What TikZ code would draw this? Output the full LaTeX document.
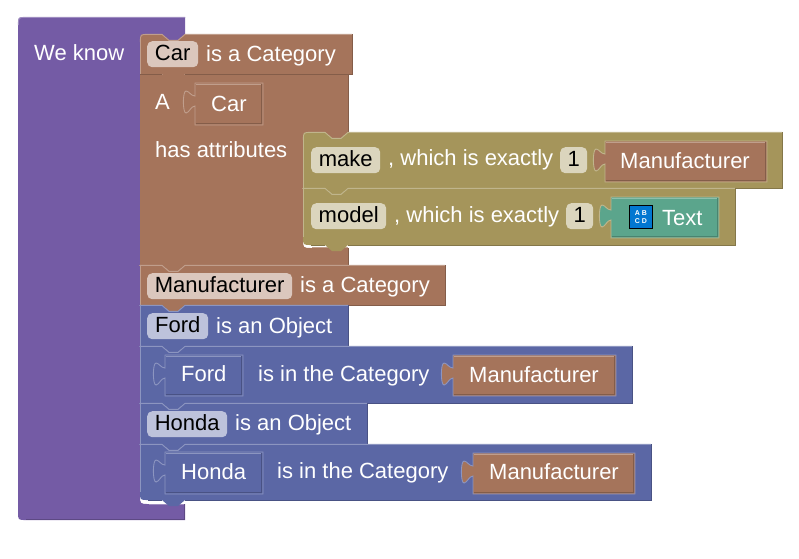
\documentclass[tikz,border=0pt]{standalone}
\usepackage{fontspec}
\setmainfont{Liberation Sans}
\definecolor{BlockViolet}{HTML}{745BA5}
\definecolor{BlockVioletLight}{HTML}{9E8CC0}
\definecolor{BlockVioletDark}{HTML}{5D4984}
\definecolor{BlockBrown}{HTML}{A5745B}
\definecolor{BlockBrownLight}{HTML}{C09E8C}
\definecolor{BlockBrownDark}{HTML}{845D49}
\definecolor{BlockOlive}{HTML}{A5955B}
\definecolor{BlockOliveLight}{HTML}{C0B58C}
\definecolor{BlockOliveDark}{HTML}{847749}
\definecolor{BlockBlue}{HTML}{5B67A5}
\definecolor{BlockBlueLight}{HTML}{8C95C0}
\definecolor{BlockBlueDark}{HTML}{495284}
\definecolor{BlockTeal}{HTML}{5BA58C}
\definecolor{BlockTealLight}{HTML}{8CC0AE}
\definecolor{BlockTealDark}{HTML}{498470}
\definecolor{ChipBrown}{HTML}{DBC7BD}
\definecolor{ChipOlive}{HTML}{DBD5BD}
\definecolor{ChipBlue}{HTML}{BDC2DB}
\definecolor{IconBlue}{HTML}{0277D1}
\tikzset{
  chip/.style={anchor=north west,inner sep=0pt,text=black,minimum height=26,text height=16.5,text depth=3.5,rounded corners=5pt},
  label/.style={anchor=base west,inner sep=0pt,text=white},
}
% colour, left, top, right, bottom, top radius, bottom radius
\newcommand{\stackblock}[7]{
  \fill[#1] (#2,#3+#6) .. controls (#2,#3) .. (#2+#6,#3) -- (#2+22,#3) -- (#2+29,#3+6) -- (#2+38,#3+6) -- (#2+45,#3) -- (#4,#3) -- (#4,#5)
    -- (#2+45,#5) -- (#2+38,#5+6) -- (#2+29,#5+6) -- (#2+22,#5) -- (#2+#7,#5) .. controls (#2,#5) .. (#2,#5-#7) -- cycle;
  \draw[#1Light,line width=0.4] (#2+0.2,#5-#7) -- (#2+0.2,#3+#6);
  \draw[#1Light,line width=0.9] (#2+0.4,#3+#6) .. controls (#2+0.4,#3+0.4) .. (#2+#6,#3+0.4) -- (#2+22,#3+0.4) -- (#2+29,#3+6.4) -- (#2+38,#3+6.4) -- (#2+45,#3+0.4) -- (#4,#3+0.4);
  \draw[#1Dark,line width=0.9] (#4,#3) -- (#4,#5) -- (#2+45,#5);
  \draw[#1Dark,line width=0.9] (#2+22,#5) -- (#2+#7,#5);
}
% child colour, parent colour, left, top, right, bottom
\newcommand{\valueblock}[6]{
  \draw[#2Light,fill=#1,line width=0.9] (#3,#4) -- (#5,#4) -- (#5,#6) -- (#3,#6) -- (#3,#4+23)
    .. controls (#3-4,#4+23) and (#3-6,#4+30) .. (#3-9,#4+30)
    .. controls (#3-12.5,#4+30) and (#3-12.5,#4+8) .. (#3-9,#4+8)
    .. controls (#3-6,#4+8) and (#3-4,#4+13) .. (#3,#4+13) -- cycle;
  \draw[#1Light,line width=0.9] (#3+1.2,#4+1.2) -- (#5-1.2,#4+1.2);
  \draw[#1Dark,line width=0.9] (#5-1.2,#4+1.2) -- (#5-1.2,#6-1.2) -- (#3+1.2,#6-1.2);
}
\begin{document}
\begin{tikzpicture}[x=1pt,y=-1pt,font=\fontsize{22}{24}\selectfont]
  \useasboundingbox (0,0) rectangle (799,558);
  % outer wrapper
  \fill[BlockViolet] (18,25) .. controls (18,17) .. (26,17) -- (185,17) -- (185,40) -- (140,40) -- (140,495) .. controls (140,504) .. (149,504) -- (185,504) -- (185,520) -- (26,520) .. controls (18,520) .. (18,512) -- cycle;
  \draw[BlockVioletLight,line width=0.9] (18.4,25) .. controls (18.4,17.4) .. (26,17.4) -- (185,17.4);
  \draw[BlockVioletLight,line width=0.9] (149,504.4) -- (185,504.4);
  \draw[BlockVioletDark,line width=0.8] (26,519.6) -- (184.6,519.6) -- (184.6,504);
  \node[label] (weKnow) at (34,60) {We know};
  % category with attributes
  \fill[BlockBrown] (140,74) -- (348,74) -- (348,140) -- (303,140) -- (303,239) .. controls (303,248) .. (312,248) -- (348,248) -- (348,265) -- (185,265) -- (178,271) -- (169,271) -- (162,265) -- (140,265) -- cycle;
  \draw[BlockBrownLight,line width=0.9] (140,74.4) -- (348,74.4);
  \draw[BlockBrownDark,line width=0.9] (348,74) -- (348,139);
  \draw[BlockBrownLight,line width=0.9] (312,247.6) -- (348,247.6);
  \draw[BlockBrownDark,line width=0.9] (348,248) -- (348,265);
  \stackblock{BlockBrown}{140}{34}{352}{74}{8}{0}
  \node[chip,fill=ChipBrown,minimum width=51] (carChip) at (147,41) {Car};
  \node[label] (carIs) at (206,61) {is a Category};
  \node[label] (articleA) at (155,109) {A};
  \valueblock{BlockBrown}{BlockBrown}{195}{83}{263}{125}
  \node[label] (carValue) at (211,111) {Car};
  \node[label] (hasAttr) at (155,157) {has attributes};
  % attributes
  \stackblock{BlockOlive}{303}{132}{782}{188}{8}{0}
  \node[chip,fill=ChipOlive,minimum width=69] (makeChip) at (311,147) {make};
  \node[label] (makeWhich) at (388,165) {, which is exactly};
  \node[chip,fill=ChipOlive,minimum width=27] (makeOne) at (560,147) {1};
  \valueblock{BlockBrown}{BlockOlive}{605}{141}{767}{182}
  \node[label] (makeValue) at (620,168) {Manufacturer};
  \stackblock{BlockOlive}{303}{188}{735}{245}{0}{8}
  \node[chip,fill=ChipOlive,minimum width=75] (modelChip) at (311,203) {model};
  \node[label] (modelWhich) at (394,222) {, which is exactly};
  \node[chip,fill=ChipOlive,minimum width=27] (modelOne) at (566,203) {1};
  \valueblock{BlockTeal}{BlockOlive}{611}{197}{719}{238}
  \draw[black,fill=IconBlue,line width=1] (629.5,205.5) rectangle (652.5,228.5);
  \node[inner sep=0pt,text=white,font=\bfseries\fontsize{7}{8.5}\selectfont,align=center] (iconText) at (641,217) {A B\\C D};
  \node[label] (textValue) at (662,225) {Text};
  % manufacturer and objects
  \stackblock{BlockBrown}{140}{265}{445}{305}{0}{0}
  \node[chip,fill=ChipBrown,minimum width=145] (manufChip) at (147,273) {Manufacturer};
  \node[label] (manufIs) at (300,292) {is a Category};
  \stackblock{BlockBlue}{140}{305}{348}{346}{0}{0}
  \node[chip,fill=ChipBlue,minimum width=61] (fordChip) at (147,313) {Ford};
  \node[label] (fordIs) at (216,333) {is an Object};
  \stackblock{BlockBlue}{140}{346}{632}{403}{0}{0}
  \valueblock{BlockBlue}{BlockBlue}{165}{355}{243}{396}
  \node[label] (fordValue) at (181,381) {Ford};
  \node[label] (fordIn) at (258,381) {is in the Category};
  \valueblock{BlockBrown}{BlockBlue}{453}{355}{616}{396}
  \node[label] (fordManuf) at (469,382) {Manufacturer};
  \stackblock{BlockBlue}{140}{403}{367}{444}{0}{0}
  \node[chip,fill=ChipBlue,minimum width=80] (hondaChip) at (147,411) {Honda};
  \node[label] (hondaIs) at (235,430) {is an Object};
  \stackblock{BlockBlue}{140}{444}{651}{500}{0}{8}
  \valueblock{BlockBlue}{BlockBlue}{165}{452}{263}{494}
  \node[label] (hondaValue) at (181,479) {Honda};
  \node[label] (hondaIn) at (277,478) {is in the Category};
  \valueblock{BlockBrown}{BlockBlue}{473}{453}{635}{494}
  \node[label] (hondaManuf) at (489,479) {Manufacturer};
\end{tikzpicture}
\end{document}
